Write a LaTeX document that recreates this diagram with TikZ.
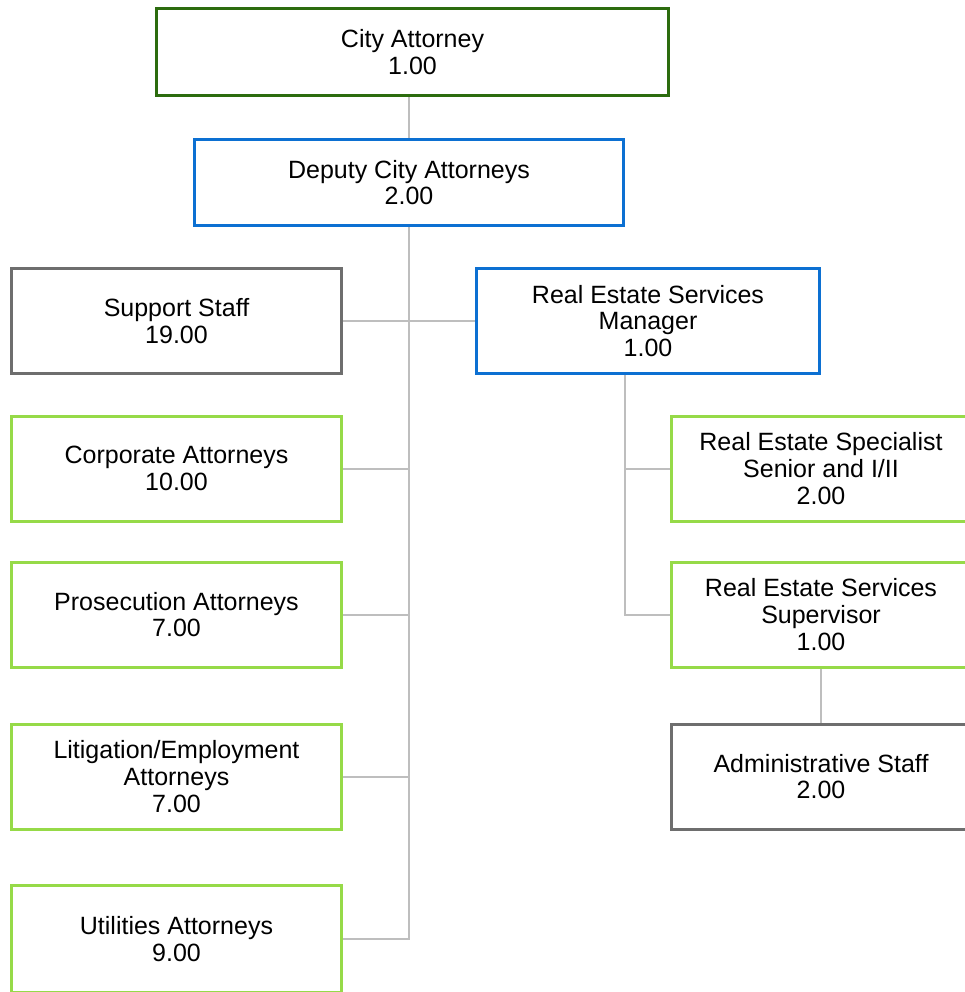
\documentclass[tikz,border=0pt]{standalone}
\usepackage{fontspec}
\setmainfont{Liberation Sans}
\usetikzlibrary{backgrounds}
\definecolor{dgreen}{RGB}{44,108,14}
\definecolor{cblue}{RGB}{12,112,210}
\definecolor{cgray}{RGB}{110,110,110}
\definecolor{lgreen}{RGB}{150,218,72}
\definecolor{lineg}{RGB}{190,190,190}
\begin{document}
\begin{tikzpicture}[x=1pt,y=-1pt,
  box/.style={draw, line width=3pt, fill=white, align=center, inner sep=0pt,
    font=\fontsize{25}{26.7}\selectfont},
  topbox/.style={box, draw=dgreen},
  bluebox/.style={box, draw=cblue},
  graybox/.style={box, draw=cgray},
  greenbox/.style={box, draw=lgreen},
  leftbox/.style={minimum width=330pt, minimum height=105pt},
  rightbox/.style={minimum width=299pt, minimum height=105pt},
  conn/.style={draw=lineg, line width=2pt}]
\useasboundingbox (0,0) rectangle (964,992);
\node[topbox, minimum width=512pt, minimum height=87pt] (city) at (412.5,52) {City Attorney\\1.00};
\node[bluebox, minimum width=429pt, minimum height=86pt] (deputy) at (409,182.5) {Deputy City Attorneys\\2.00};
\node[graybox, leftbox] (support) at (176.5,321) {Support Staff\\19.00};
\node[bluebox, minimum width=343pt, minimum height=105pt] (resm) at (648,321) {Real Estate Services\\Manager\\1.00};
\node[greenbox, leftbox] (corp) at (176.5,468.5) {Corporate Attorneys\\10.00};
\node[greenbox, leftbox] (pros) at (176.5,614.5) {Prosecution Attorneys\\7.00};
\node[greenbox, leftbox] (lit) at (176.5,776.5) {Litigation/Employment\\Attorneys\\7.00};
\node[greenbox, leftbox, minimum height=107pt] (util) at (176.5,939) {Utilities Attorneys\\9.00};
\node[greenbox, rightbox] (spec) at (821,468.5) {Real Estate Specialist\\Senior and I/II\\2.00};
\node[greenbox, rightbox] (sup) at (821,614.5) {Real Estate Services\\Supervisor\\1.00};
\node[graybox, rightbox] (admin) at (821,776.5) {Administrative Staff\\2.00};
\coordinate (rv) at (625,375);
\begin{scope}[on background layer]
\draw[conn] (deputy.north) -- (deputy.north |- city.south);
\draw[conn] (deputy.south) -- (deputy.south |- util.east) -- (util.east);
\draw[conn] (support.east) -- (resm.west);
\draw[conn] (corp.east) -- (corp.east -| deputy.south);
\draw[conn] (pros.east) -- (pros.east -| deputy.south);
\draw[conn] (lit.east) -- (lit.east -| deputy.south);
\draw[conn] (rv) |- (spec.west);
\draw[conn] (rv) |- (sup.west);
\draw[conn] (sup.south) -- (admin.north);
\end{scope}
\end{tikzpicture}
\end{document}
